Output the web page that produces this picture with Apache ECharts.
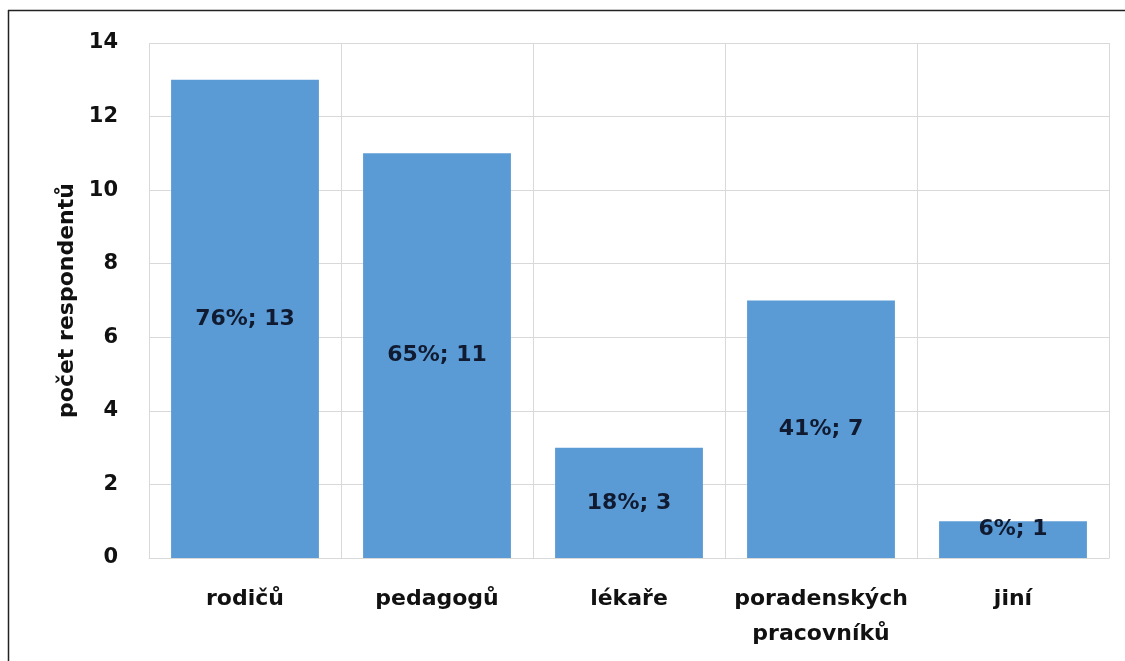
<!DOCTYPE html>
<html><head><meta charset="utf-8">
<script src="https://cdn.jsdelivr.net/npm/echarts@6/dist/echarts.min.js"></script>
<style>html,body{margin:0;padding:0;background:#fff}#c{width:1125px;height:661px}</style>
</head><body><div id="c"></div>
<script>
var categories = ['rodičů', 'pedagogů', 'lékaře', 'poradenských\npracovníků', 'jiní'];
var counts = [13, 11, 3, 7, 1];
var percents = ['76%', '65%', '18%', '41%', '6%'];
var yTicks = [0, 2, 4, 6, 8, 10, 12, 14];

var FONT = '"DejaVu Sans", sans-serif';
var chart = echarts.init(document.getElementById('c'), null, {renderer: 'canvas'});
chart.setOption({
  animation: false,
  backgroundColor: '#fff',
  grid: {left: 149, right: 16, top: 43, bottom: 103},
  graphic: [
    {type: 'line', shape: {x1: 8.5, y1: 10, x2: 8.5, y2: 661}, style: {stroke: '#222', lineWidth: 1.5}},
    {type: 'line', shape: {x1: 8, y1: 10.5, x2: 1125, y2: 10.5}, style: {stroke: '#222', lineWidth: 1.5}}
  ],
  xAxis: {
    type: 'category',
    data: categories,
    axisLine: {show: true, lineStyle: {color: '#D9D9D9'}},
    axisTick: {show: false},
    splitLine: {show: true, lineStyle: {color: '#D9D9D9'}},
    axisLabel: {fontFamily: FONT, fontWeight: 'bold', fontSize: 22, color: '#111', margin: 24, lineHeight: 35, interval: 0}
  },
  yAxis: {
    type: 'value',
    min: yTicks[0], max: yTicks[yTicks.length - 1], interval: 2,
    name: 'počet respondentů',
    nameLocation: 'middle',
    nameGap: 71,
    nameTextStyle: {fontFamily: FONT, fontWeight: 'bold', fontSize: 22, color: '#111'},
    axisLine: {show: false},
    axisTick: {show: false},
    splitLine: {show: true, lineStyle: {color: '#D9D9D9'}},
    axisLabel: {fontFamily: FONT, fontWeight: 'bold', fontSize: 21, color: '#111', margin: 31}
  },
  series: [{
    type: 'bar',
    data: counts.map(function (v, i) {
      var d = {value: v};
      if (i === counts.length - 1) d.label = {offset: [0, -10]};
      return d;
    }),
    barCategoryGap: '23%',
    itemStyle: {color: '#5B9BD5'},
    label: {
      show: true, position: 'inside',
      fontFamily: FONT, fontWeight: 'bold', fontSize: 22, color: '#101a30',
      formatter: function (p) { return percents[p.dataIndex] + '; ' + counts[p.dataIndex]; }
    }
  }]
});
</script></body></html>
